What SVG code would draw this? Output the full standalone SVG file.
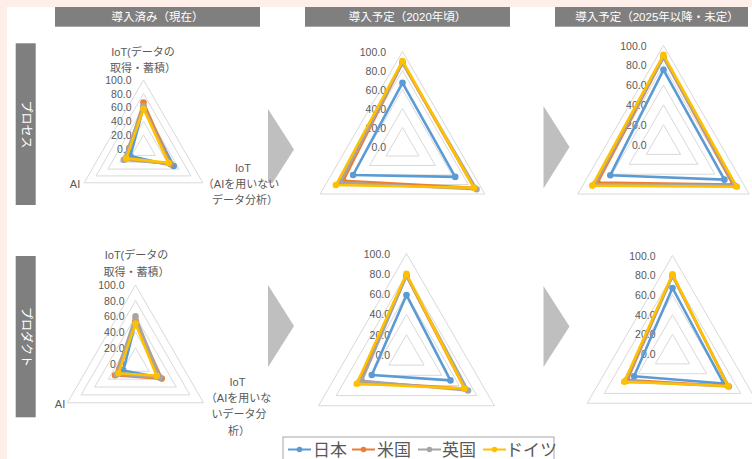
<svg xmlns="http://www.w3.org/2000/svg" width="752" height="459" viewBox="0 0 752 459">
<style>
.bg{fill:#FDEEEA}
.hdr{fill:#7F7F7F}
.hdrt{font-family:"Liberation Sans","Noto Sans CJK JP",sans-serif;font-size:11.5px;fill:#FFFFFF;text-anchor:middle}
.side{font-family:"Liberation Sans","Noto Sans CJK JP",sans-serif;font-size:12px;fill:#FFFFFF;text-anchor:middle}
.grid{fill:none;stroke:#D9D9D9;stroke-width:1}
.num{font-family:"Liberation Sans","Noto Sans CJK JP",sans-serif;font-size:10.5px;fill:#595959;text-anchor:end}
.cat{font-family:"Liberation Sans","Noto Sans CJK JP",sans-serif;font-size:11px;fill:#595959;text-anchor:middle}
.arrow{fill:#BFBFBF}
.s{fill:none;stroke-width:2.6;stroke-linejoin:round}
.b{stroke:#5B9BD5}.o{stroke:#ED7D31}.g{stroke:#A5A5A5}.y{stroke:#FFC000}
.mb{fill:#5B9BD5}.mo{fill:#ED7D31}.mg{fill:#A5A5A5}.my{fill:#FFC000}
.leg{font-family:"Liberation Sans","Noto Sans CJK JP",sans-serif;font-size:17px;fill:#595959}
</style>
<rect x="0" y="0" width="752" height="459" fill="#FFFFFF"/>
<rect class="bg" x="0" y="0" width="752" height="7"/>
<rect class="bg" x="0" y="0" width="7" height="459"/>

<g id="headers">
<rect class="hdr" x="55" y="7" width="205" height="19.7"/>
<text class="hdrt" x="157.5" y="21">導入済み（現在）</text>
<rect class="hdr" x="305" y="7" width="205" height="19.7"/>
<text class="hdrt" x="407.5" y="21">導入予定（2020年頃）</text>
<rect class="hdr" x="555" y="7" width="193" height="19.7"/>
<text class="hdrt" x="657" y="21">導入予定（2025年以降・未定）</text>
</g>

<g id="side-process">
<rect class="hdr" x="15.7" y="43.3" width="20" height="161.7"/>
<text class="side" transform="translate(25.7,124.5) rotate(90)" dy="4">プロセス</text>
</g>
<g id="side-product">
<rect class="hdr" x="15.7" y="256" width="20" height="161.3"/>
<text class="side" transform="translate(25.7,337) rotate(90)" dy="4">プロダクト</text>
</g>

<g id="arrows">
<polygon class="arrow" points="268,109 294,149.5 272.5,183 268,183"/>
<polygon class="arrow" points="543.5,106 569.5,147 543.5,188.5"/>
<polygon class="arrow" points="268,285 294,326 268,367.3"/>
<polygon class="arrow" points="543.5,286 569.5,326.5 543.5,367"/>
</g>

<!-- Chart A: process current -->
<g id="chart-process-current">
<polygon class="grid" points="143.5,134.8 155.4,155.4 131.6,155.4"/>
<polygon class="grid" points="143.5,121.1 167.2,162.2 119.8,162.2"/>
<polygon class="grid" points="143.5,107.4 179.1,169.1 107.9,169.1"/>
<polygon class="grid" points="143.5,93.7 191.0,175.9 96.0,175.9"/>
<polygon class="grid" points="143.5,80.0 202.8,182.8 84.2,182.8"/>
<text class="num" x="131.5" y="84">100.0</text>
<text class="num" x="131.5" y="97.7">80.0</text>
<text class="num" x="131.5" y="111.4">60.0</text>
<text class="num" x="131.5" y="125.1">40.0</text>
<text class="num" x="131.5" y="138.8">20.0</text>
<text class="num" x="131.5" y="152.5">0.0</text>
<text class="cat" x="143" y="56.3">IoT(データの</text>
<text class="cat" x="143" y="72.3">取得・蓄積）</text>
<text class="cat" x="243" y="172.3">IoT</text>
<text class="cat" x="241" y="188.3">（AIを用いない</text>
<text class="cat" x="245" y="204">データ分析）</text>
<text class="cat" x="75" y="188.3">AI</text>
<polygon class="s b" points="143.5,107.4 173.7,166.0 130.4,156.0"/>
<circle class="mb" cx="143.5" cy="107.4" r="3.3"/><circle class="mb" cx="173.7" cy="166.0" r="3.3"/><circle class="mb" cx="130.4" cy="156.0" r="3.3"/>
<polygon class="s o" points="143.5,102.6 170.8,164.3 125.7,158.8"/>
<circle class="mo" cx="143.5" cy="102.6" r="3.3"/><circle class="mo" cx="170.8" cy="164.3" r="3.3"/><circle class="mo" cx="125.7" cy="158.8" r="3.3"/>
<polygon class="s g" points="143.5,106.0 169.6,163.6 123.9,159.8"/>
<circle class="mg" cx="143.5" cy="106.0" r="3.3"/><circle class="mg" cx="169.6" cy="163.6" r="3.3"/><circle class="mg" cx="123.9" cy="159.8" r="3.3"/>
<polygon class="s y" points="143.5,108.8 168.4,162.9 126.3,158.4"/>
<circle class="my" cx="143.5" cy="108.8" r="3.3"/><circle class="my" cx="168.4" cy="162.9" r="3.3"/><circle class="my" cx="126.3" cy="158.4" r="3.3"/>
</g>

<!-- Chart B: process 2020 -->
<g id="chart-process-2020">
<polygon class="grid" points="402.5,127.5 418.95,156 386.05,156"/>
<polygon class="grid" points="402.5,108.5 435.4,165.5 369.6,165.5"/>
<polygon class="grid" points="402.5,89.5 451.9,175 353.1,175"/>
<polygon class="grid" points="402.5,70.5 468.3,184.5 336.7,184.5"/>
<polygon class="grid" points="402.5,51.5 484.8,194 320.2,194"/>
<text class="num" x="386" y="55.5">100.0</text>
<text class="num" x="386" y="74.5">80.0</text>
<text class="num" x="386" y="93.5">60.0</text>
<text class="num" x="386" y="112.5">40.0</text>
<text class="num" x="386" y="131.5">20.0</text>
<text class="num" x="386" y="150.5">0.0</text>
<polygon class="s b" points="402.5,82.9 455.2,176.9 353.1,175.0"/>
<circle class="mb" cx="402.5" cy="82.9" r="3.3"/><circle class="mb" cx="455.2" cy="176.9" r="3.3"/><circle class="mb" cx="353.1" cy="175.0" r="3.3"/>
<polygon class="s o" points="402.5,62.9 474.1,187.8 343.3,180.7"/>
<circle class="mo" cx="402.5" cy="62.9" r="3.3"/><circle class="mo" cx="474.1" cy="187.8" r="3.3"/><circle class="mo" cx="343.3" cy="180.7" r="3.3"/>
<polygon class="s g" points="402.5,62.9 476.5,189.25 340.0,182.6"/>
<circle class="mg" cx="402.5" cy="62.9" r="3.3"/><circle class="mg" cx="476.5" cy="189.25" r="3.3"/><circle class="mg" cx="340.0" cy="182.6" r="3.3"/>
<polygon class="s y" points="402.5,61.0 474.1,187.8 335.9,185.0"/>
<circle class="my" cx="402.5" cy="61.0" r="3.3"/><circle class="my" cx="474.1" cy="187.8" r="3.3"/><circle class="my" cx="335.9" cy="185.0" r="3.3"/>
</g>

<!-- Chart C: process 2025 -->
<g id="chart-process-2025">
<polygon class="grid" points="663.5,124.7 680.6,154.4 646.4,154.4"/>
<polygon class="grid" points="663.5,104.9 697.8,164.3 629.2,164.3"/>
<polygon class="grid" points="663.5,85.1 714.9,174.2 612.1,174.2"/>
<polygon class="grid" points="663.5,65.3 732.1,184.1 594.9,184.1"/>
<polygon class="grid" points="663.5,45.5 749.2,194 577.8,194"/>
<text class="num" x="646.5" y="49.5">100.0</text>
<text class="num" x="646.5" y="69.3">80.0</text>
<text class="num" x="646.5" y="89.1">60.0</text>
<text class="num" x="646.5" y="108.9">40.0</text>
<text class="num" x="646.5" y="128.7">20.0</text>
<text class="num" x="646.5" y="148.5">0.0</text>
<polygon class="s b" points="663.5,69.8 724.4,179.65 610.3,175.2"/>
<circle class="mb" cx="663.5" cy="69.8" r="3.3"/><circle class="mb" cx="724.4" cy="179.65" r="3.3"/><circle class="mb" cx="610.3" cy="175.2" r="3.3"/>
<polygon class="s o" points="663.5,57.4 733.0,184.6 597.5,182.6"/>
<circle class="mo" cx="663.5" cy="57.4" r="3.3"/><circle class="mo" cx="733.0" cy="184.6" r="3.3"/><circle class="mo" cx="597.5" cy="182.6" r="3.3"/>
<polygon class="s g" points="663.5,57.4 734.7,185.6 594.9,184.1"/>
<circle class="mg" cx="663.5" cy="57.4" r="3.3"/><circle class="mg" cx="734.7" cy="185.6" r="3.3"/><circle class="mg" cx="594.9" cy="184.1" r="3.3"/>
<polygon class="s y" points="663.5,54.9 736.8,186.8 592.3,185.6"/>
<circle class="my" cx="663.5" cy="54.9" r="3.3"/><circle class="my" cx="736.8" cy="186.8" r="3.3"/><circle class="my" cx="592.3" cy="185.6" r="3.3"/>
</g>

<!-- Chart D: product current -->
<g id="chart-product-current">
<polygon class="grid" points="135.5,347.8 149.1,371.35 121.9,371.35"/>
<polygon class="grid" points="135.5,332.1 162.7,379.2 108.3,379.2"/>
<polygon class="grid" points="135.5,316.4 176.3,387.05 94.7,387.05"/>
<polygon class="grid" points="135.5,300.7 189.9,394.9 81.1,394.9"/>
<polygon class="grid" points="135.5,285 203.5,402.75 67.5,402.75"/>
<text class="num" x="124.5" y="289">100.0</text>
<text class="num" x="124.5" y="304.7">80.0</text>
<text class="num" x="124.5" y="320.4">60.0</text>
<text class="num" x="124.5" y="336.1">40.0</text>
<text class="num" x="124.5" y="351.8">20.0</text>
<text class="num" x="124.5" y="367.5">0.0</text>
<text class="cat" x="136.5" y="259">IoT(データの</text>
<text class="cat" x="136.5" y="276.3">取得・蓄積）</text>
<text class="cat" x="237.5" y="385.7">IoT</text>
<text class="cat" x="238.5" y="401.7">（AIを用いな</text>
<text class="cat" x="239" y="418.3">いデータ分</text>
<text class="cat" x="239" y="435">析）</text>
<text class="cat" x="60" y="408.3">AI</text>
<polygon class="s b" points="135.5,322.7 159.3,377.2 123.3,370.6"/>
<circle class="mb" cx="135.5" cy="322.7" r="3.3"/><circle class="mb" cx="159.3" cy="377.2" r="3.3"/><circle class="mb" cx="123.3" cy="370.6" r="3.3"/>
<polygon class="s o" points="135.5,320.3 161.7,378.6 115.1,375.3"/>
<circle class="mo" cx="135.5" cy="320.3" r="3.3"/><circle class="mo" cx="161.7" cy="378.6" r="3.3"/><circle class="mo" cx="115.1" cy="375.3" r="3.3"/>
<polygon class="s g" points="135.5,316.4 160.0,377.6 116.5,374.5"/>
<circle class="mg" cx="135.5" cy="316.4" r="3.3"/><circle class="mg" cx="160.0" cy="377.6" r="3.3"/><circle class="mg" cx="116.5" cy="374.5" r="3.3"/>
<polygon class="s y" points="135.5,323.5 156.6,375.7 118.5,373.3"/>
<circle class="my" cx="135.5" cy="323.5" r="3.3"/><circle class="my" cx="156.6" cy="375.7" r="3.3"/><circle class="my" cx="118.5" cy="373.3" r="3.3"/>
</g>

<!-- Chart E: product 2020 -->
<g id="chart-product-2020">
<polygon class="grid" points="406.5,334.7 424.1,365.15 388.9,365.15"/>
<polygon class="grid" points="406.5,314.4 441.7,375.3 371.3,375.3"/>
<polygon class="grid" points="406.5,294.1 459.2,385.45 353.8,385.45"/>
<polygon class="grid" points="406.5,273.8 476.8,395.6 336.2,395.6"/>
<polygon class="grid" points="406.5,253.5 494.4,405.75 318.6,405.75"/>
<text class="num" x="390" y="257.5">100.0</text>
<text class="num" x="390" y="277.8">80.0</text>
<text class="num" x="390" y="298.1">60.0</text>
<text class="num" x="390" y="318.4">40.0</text>
<text class="num" x="390" y="338.7">20.0</text>
<text class="num" x="390" y="359">0.0</text>
<polygon class="s b" points="406.5,295.1 450.45,380.4 371.8,375.05"/>
<circle class="mb" cx="406.5" cy="295.1" r="3.3"/><circle class="mb" cx="450.45" cy="380.4" r="3.3"/><circle class="mb" cx="371.8" cy="375.05" r="3.3"/>
<polygon class="s o" points="406.5,275.8 464.5,388.5 359.9,381.9"/>
<circle class="mo" cx="406.5" cy="275.8" r="3.3"/><circle class="mo" cx="464.5" cy="388.5" r="3.3"/><circle class="mo" cx="359.9" cy="381.9" r="3.3"/>
<polygon class="s g" points="406.5,275.8 468.0,390.5 361.7,380.9"/>
<circle class="mg" cx="406.5" cy="275.8" r="3.3"/><circle class="mg" cx="468.0" cy="390.5" r="3.3"/><circle class="mg" cx="361.7" cy="380.9" r="3.3"/>
<polygon class="s y" points="406.5,273.8 464.5,388.5 356.8,383.7"/>
<circle class="my" cx="406.5" cy="273.8" r="3.3"/><circle class="my" cx="464.5" cy="388.5" r="3.3"/><circle class="my" cx="356.8" cy="383.7" r="3.3"/>
</g>

<!-- Chart F: product 2025 -->
<g id="chart-product-2025">
<polygon class="grid" points="672.5,334.3 689.6,363.85 655.4,363.85"/>
<polygon class="grid" points="672.5,314.6 706.6,373.7 638.4,373.7"/>
<polygon class="grid" points="672.5,294.9 723.7,383.55 621.3,383.55"/>
<polygon class="grid" points="672.5,275.2 740.7,393.4 604.3,393.4"/>
<polygon class="grid" points="672.5,255.5 757.8,403.25 587.2,403.25"/>
<text class="num" x="655.5" y="259.5">100.0</text>
<text class="num" x="655.5" y="279.2">80.0</text>
<text class="num" x="655.5" y="298.9">60.0</text>
<text class="num" x="655.5" y="318.6">40.0</text>
<text class="num" x="655.5" y="338.3">20.0</text>
<text class="num" x="655.5" y="358">0.0</text>
<polygon class="s b" points="672.5,288.0 723.7,383.55 634.1,376.2"/>
<circle class="mb" cx="672.5" cy="288.0" r="3.3"/><circle class="mb" cx="723.7" cy="383.55" r="3.3"/><circle class="mb" cx="634.1" cy="376.2" r="3.3"/>
<polygon class="s o" points="672.5,275.2 727.9,386.0 627.3,380.1"/>
<circle class="mo" cx="672.5" cy="275.2" r="3.3"/><circle class="mo" cx="727.9" cy="386.0" r="3.3"/><circle class="mo" cx="627.3" cy="380.1" r="3.3"/>
<polygon class="s g" points="672.5,276.2 728.8,386.5 625.6,381.1"/>
<circle class="mg" cx="672.5" cy="276.2" r="3.3"/><circle class="mg" cx="728.8" cy="386.5" r="3.3"/><circle class="mg" cx="625.6" cy="381.1" r="3.3"/>
<polygon class="s y" points="672.5,274.2 727.9,386.0 624.3,381.8"/>
<circle class="my" cx="672.5" cy="274.2" r="3.3"/><circle class="my" cx="727.9" cy="386.0" r="3.3"/><circle class="my" cx="624.3" cy="381.8" r="3.3"/>
</g>

<g id="legend">
<rect x="283" y="437" width="271" height="26" fill="#FFFFFF" stroke="#A6A6A6" stroke-width="1"/>
<line x1="288" y1="449.5" x2="311" y2="449.5" stroke="#5B9BD5" stroke-width="2"/>
<circle cx="299.5" cy="449.5" r="2.8" fill="#5B9BD5"/>
<text class="leg" x="313" y="456">日本</text>
<line x1="352" y1="449.5" x2="375" y2="449.5" stroke="#ED7D31" stroke-width="2"/>
<circle cx="363.5" cy="449.5" r="2.8" fill="#ED7D31"/>
<text class="leg" x="377" y="456">米国</text>
<line x1="418" y1="449.5" x2="441" y2="449.5" stroke="#A5A5A5" stroke-width="2"/>
<circle cx="429.5" cy="449.5" r="2.8" fill="#A5A5A5"/>
<text class="leg" x="442" y="456">英国</text>
<line x1="483" y1="449.5" x2="506" y2="449.5" stroke="#FFC000" stroke-width="2"/>
<circle cx="494.5" cy="449.5" r="2.8" fill="#FFC000"/>
<text class="leg" x="506" y="456">ドイツ</text>
</g>
</svg>
